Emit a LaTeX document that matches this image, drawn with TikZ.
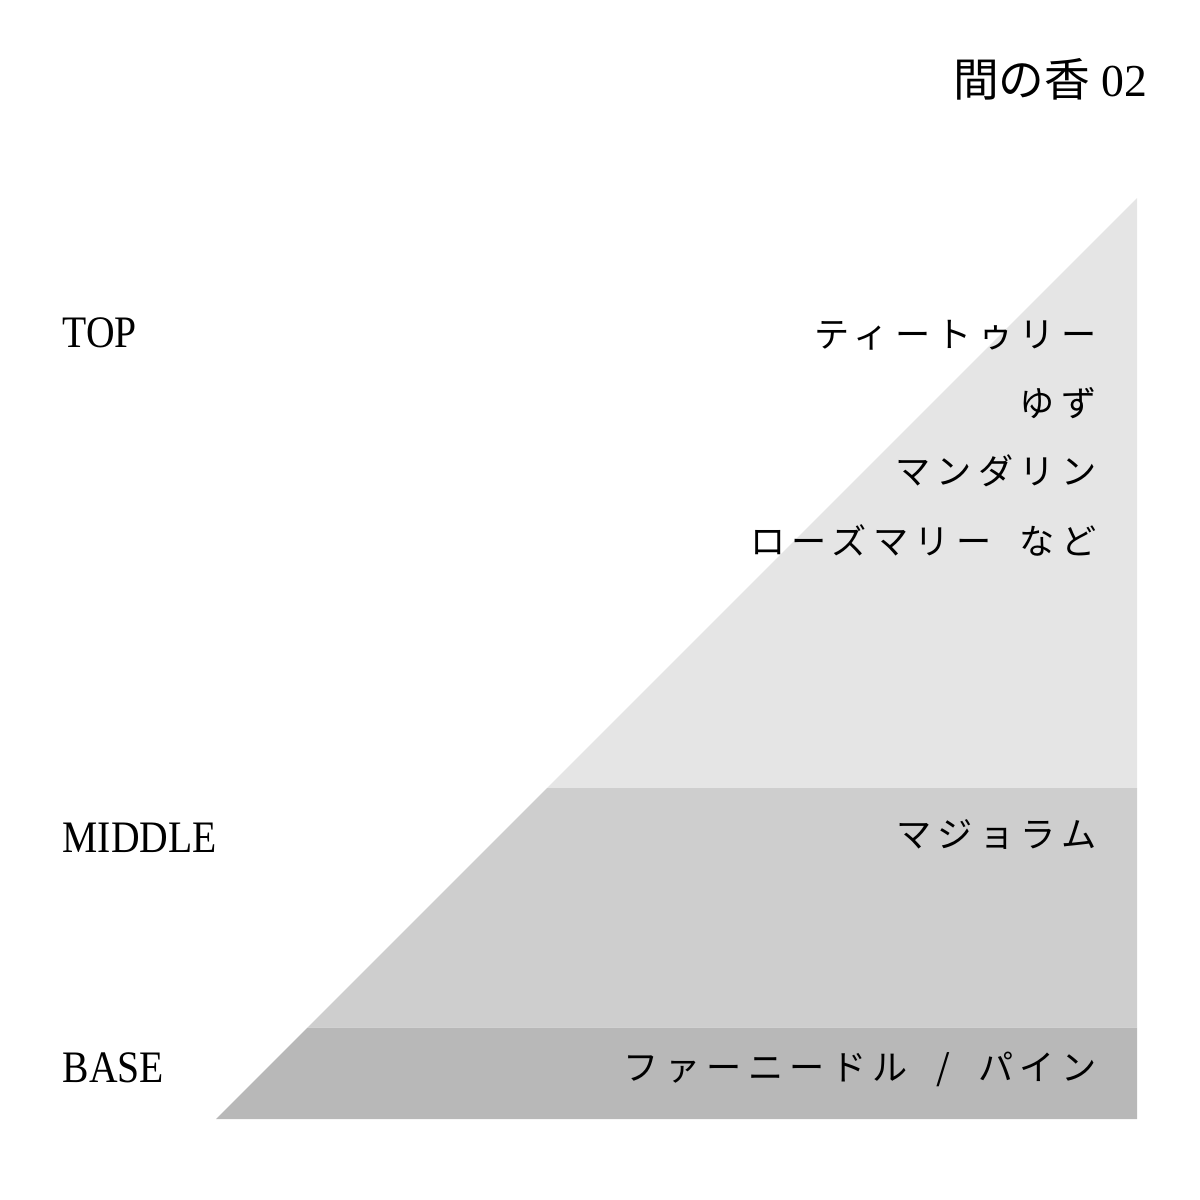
\documentclass[tikz,border=0pt]{standalone}
\usepackage{fontspec}
\setmainfont{Liberation Serif}
\newfontfamily\labelfont[FakeStretch=0.88]{Liberation Serif}
\newfontfamily\cjk{Noto Sans CJK JP}
\newfontfamily\cjkwide[LetterSpace=18]{Noto Sans CJK JP}
\usetikzlibrary{math}

\newcommand{\gap}{\ \hspace{4pt}}

\begin{document}
\begin{tikzpicture}[x=0.01cm,y=-0.01cm]

\tikzmath{
	\R = 1137; \B = 1119; \L = 216;
	\M = 788; \N = 1027.5;
}

\tikzset{
  band/.style={fill=#1, draw=none},
  note/.style={anchor=base east, inner sep=0pt,
    font=\cjkwide\fontsize{10}{12}\selectfont},
  level/.style={anchor=base west, inner sep=0pt,
    font=\labelfont\fontsize{12.8}{15}\selectfont}
}

\definecolor{topgray}{HTML}{E5E5E5}
\definecolor{midgray}{HTML}{CECECE}
\definecolor{basegray}{HTML}{B8B8B8}

\useasboundingbox (0,0) rectangle (1200,1200);

\fill[band=topgray] (\R,\B-\R+\L) -- (\R,\M) -- (\L+\B-\M,\M) -- cycle;
\fill[band=midgray] (\L+\B-\M,\M) -- (\R,\M) -- (\R,\N) -- (\L+\B-\N,\N) -- cycle;
\fill[band=basegray] (\L+\B-\N,\N) -- (\R,\N) -- (\R,\B) -- (\L,\B) -- cycle;

\node[anchor=base east, inner sep=0pt, font=\fontsize{13}{15}\selectfont] (title) at (1148,96) {{\cjk 間の香} 02};

\node[level] (lTop) at (62,347) {TOP};
\node[level] (lMid) at (62,852) {MIDDLE};
\node[level] (lBase) at (62,1082) {BASE};

\node[note] (top1) at (1097,347) {ティートゥリー};
\node[note] (top2) at (1097,416) {ゆず};
\node[note] (top3) at (1097,484) {マンダリン};
\node[note] (top4) at (1097,554) {ローズマリー\gap など};
\node[note] (mid1) at (1097,847) {マジョラム};
\node[note] (base1) at (1097,1080) {ファーニードル\gap /\gap パイン};

\end{tikzpicture}
\end{document}
